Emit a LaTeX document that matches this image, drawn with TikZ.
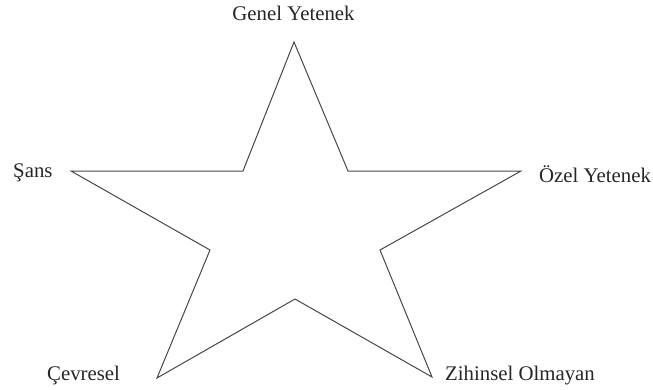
\documentclass[tikz,border=0pt]{standalone}
\usepackage{fontspec}
\setmainfont{Liberation Serif}
\begin{document}
\begin{tikzpicture}[x=1pt, y=-1pt, every node/.style={font=\fontsize{20.8}{24}\selectfont, inner sep=0pt, text=black!85}]
  \useasboundingbox (0,0) rectangle (653,389);

  % star corners
  \coordinate (top) at (294,42);
  \coordinate (ul) at (243,171);
  \coordinate (lt) at (71,171);
  \coordinate (ll) at (210,250);
  \coordinate (bl) at (157,378);
  \coordinate (bm) at (295,299);
  \coordinate (br) at (432,377);
  \coordinate (lr) at (380,250);
  \coordinate (rt) at (521,171);
  \coordinate (ur) at (348,171);

  % star
  \draw[line width=1pt, black!72, line join=miter]
    (top) -- (ul) -- (lt) -- (ll) -- (bl) -- (bm) -- (br) -- (lr) -- (rt) -- (ur) -- cycle;

  % labels
  \node[anchor=base] (genel) at (293.5,20) {Genel Yetenek};
  \node[anchor=base west] (sans) at (13,177) {Şans};
  \node[anchor=base west] (ozel) at (539,182) {Özel Yetenek};
  \node[anchor=base west] (cevre) at (47,380) {Çevresel};
  \node[anchor=base west] (zihin) at (445,380) {Zihinsel Olmayan};
\end{tikzpicture}
\end{document}
